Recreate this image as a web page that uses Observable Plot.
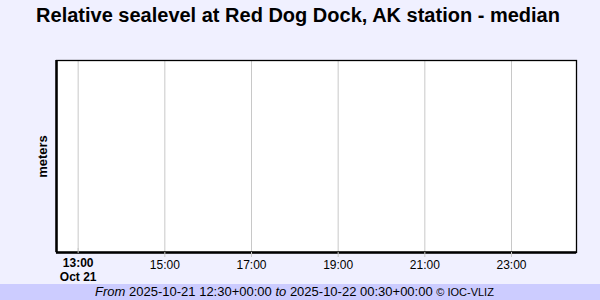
<!DOCTYPE html>
<html>
<head>
<meta charset="utf-8">
<script src="https://cdn.jsdelivr.net/npm/d3@7"></script>
<script src="https://cdn.jsdelivr.net/npm/@observablehq/plot@0.6"></script>
<style>
  html, body { margin: 0; padding: 0; }
  body { width: 600px; height: 300px; overflow: hidden; background: #f0f0ff; font-family: "Liberation Sans", Arial, sans-serif; }
  #title { height: 32px; line-height: 30px; text-align: center; font-weight: bold; font-size: 20px; color: #000; padding-right: 4px; }
  #chart { height: 252px; }
  #chart svg { display: block; }
  #footer { height: 16px; line-height: 16px; background: #ccccff; text-align: center; font-size: 13px; color: #000; padding-right: 11px; }
  #footer .small { font-size: 11px; }
</style>
</head>
<body>
<div id="title"></div>
<div id="chart"></div>
<div id="footer"></div>
<script>
const titleText = "Relative sealevel at Red Dog Dock, AK station - median";
const yLabel = "meters";
const xStart = new Date("2025-10-21T12:30:00Z");
const xEnd = new Date("2025-10-22T00:30:00Z");
const tickTimes = [
  new Date("2025-10-21T13:00:00Z"),
  new Date("2025-10-21T15:00:00Z"),
  new Date("2025-10-21T17:00:00Z"),
  new Date("2025-10-21T19:00:00Z"),
  new Date("2025-10-21T21:00:00Z"),
  new Date("2025-10-21T23:00:00Z")
];
const sealevelTimes = [];   // no data in the reference
const sealevelValues = [];
const footerFrom = "2025-10-21 12:30+00:00";
const footerTo = "2025-10-22 00:30+00:00";
const footerCredit = "© IOC-VLIZ";

const sealevel = sealevelTimes.map((t, i) => ({time: t, value: sealevelValues[i]}));
const fmtTime = d3.utcFormat("%H:%M");
const fmtDay = d3.utcFormat("%b %d");

document.getElementById("title").textContent = titleText;
document.getElementById("footer").innerHTML =
  `<i>From</i> ${footerFrom} <i>to</i> ${footerTo} <span class="small">${footerCredit}</span>`;

const chart = Plot.plot({
  width: 600,
  height: 252,
  marginTop: 28,
  marginBottom: 32,
  marginLeft: 56,
  marginRight: 24,
  style: {background: "transparent", fontFamily: "Liberation Sans, Arial, sans-serif", fontSize: "12px", color: "#000"},
  x: {type: "utc", domain: [xStart, xEnd]},
  y: {domain: [0, 1], axis: null},
  marks: [
    Plot.frame({fill: "white", stroke: "none"}),
    Plot.gridX(tickTimes, {stroke: "#c8c8c8", strokeOpacity: 1}),
    Plot.lineY(sealevel, {x: "time", y: "value", stroke: "steelblue"}),
    Plot.frame({stroke: "black", strokeWidth: 1.3}),
    Plot.ruleX([xStart], {stroke: "black", strokeWidth: 2.5}),
    Plot.ruleY([0], {stroke: "black", strokeWidth: 2.5}),
    Plot.axisX(tickTimes.slice(1), {tickFormat: fmtTime, tickSize: 5, stroke: "#c8c8c8", fill: "black", label: null, tickPadding: 3}),
    Plot.axisX(tickTimes.slice(0, 1), {tickFormat: d => fmtTime(d) + "\n" + fmtDay(d), tickSize: 5, stroke: "#c8c8c8", fill: "black", fontWeight: "bold", lineHeight: 1.2, label: null, tickPadding: 3, dy: -4}),
    Plot.text([yLabel], {text: d => d, frameAnchor: "left", rotate: -90, dx: -14, textAnchor: "middle", lineAnchor: "middle", fontWeight: "bold", fontSize: 13})
  ]
});
document.getElementById("chart").appendChild(chart);
</script>
</body>
</html>
